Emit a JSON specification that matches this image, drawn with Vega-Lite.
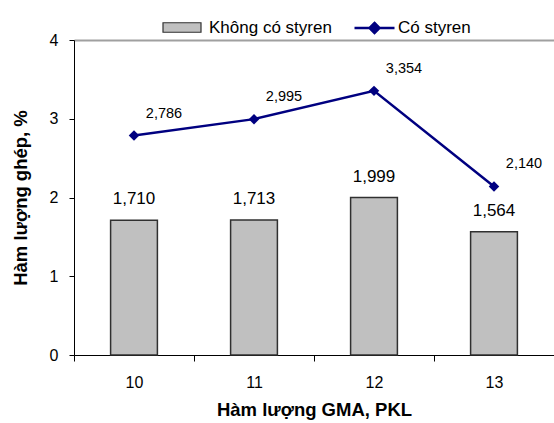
{
  "$schema": "https://vega.github.io/schema/vega-lite/v6.json",
  "width": 480,
  "height": 315,
  "autosize": "none",
  "padding": {"left": 74, "top": 40, "right": 0, "bottom": 68},
  "background": "white",
  "config": {
    "font": "Liberation Sans",
    "view": {"stroke": null},
    "locale": {"number": {"decimal": ",", "thousands": ".", "grouping": [3], "currency": ["", ""]}}
  },
  "data": {"values": [
    {"gma": "10", "khong": 1.710, "co": 2.786},
    {"gma": "11", "khong": 1.713, "co": 2.995},
    {"gma": "12", "khong": 1.999, "co": 3.354},
    {"gma": "13", "khong": 1.564, "co": 2.140}
  ]},
  "resolve": {"axis": {"x": "independent"}},
  "layer": [
    {
      "mark": {"type": "bar", "width": {"band": 0.39}, "stroke": "#303030", "strokeWidth": 1.5},
      "encoding": {
        "x": {
          "field": "gma", "type": "ordinal",
          "scale": {"paddingInner": 0, "paddingOuter": 0},
          "axis": {
            "title": "Hàm lượng GMA, PKL", "labelAngle": 0, "tickBand": "extent",
            "domainColor": "black", "tickColor": "black", "tickSize": 6,
            "labelFontSize": 16, "labelColor": "black", "labelPadding": 13,
            "titleFontSize": 18.5, "titleFontWeight": "bold", "titleColor": "black", "titlePadding": 10
          }
        },
        "y": {
          "field": "khong", "type": "quantitative",
          "scale": {"domain": [0, 4], "nice": false},
          "axis": {
            "title": "Hàm lượng ghép, %", "values": [0, 1, 2, 3, 4], "format": "d", "grid": false,
            "domainColor": "black", "tickColor": "black", "tickSize": 5,
            "labelFontSize": 16, "labelColor": "black", "labelPadding": 11,
            "titleFontSize": 18.5, "titleFontWeight": "bold", "titleColor": "black", "titlePadding": 19
          }
        },
        "fill": {
          "datum": "Không có styren",
          "scale": {"range": ["#c0c0c0"]},
          "legend": {
            "title": null, "orient": "none", "legendX": 88, "legendY": -32.5, "padding": 0,
            "symbolType": "M-1,-0.25H1V0.25H-1Z", "symbolSize": 1444,
            "symbolStrokeColor": "#303030", "symbolStrokeWidth": 1.2,
            "labelFontSize": 17, "labelColor": "black", "labelOffset": 7
          }
        }
      }
    },
    {
      "mark": {"type": "text", "fontSize": 17, "baseline": "middle", "dy": -21, "color": "black"},
      "encoding": {
        "x": {"field": "gma", "type": "ordinal", "axis": null},
        "y": {"field": "khong", "type": "quantitative"},
        "text": {"field": "khong", "type": "quantitative", "format": ".3f"}
      }
    },
    {
      "mark": {"type": "line", "strokeWidth": 2.5},
      "encoding": {
        "x": {"field": "gma", "type": "ordinal", "axis": null},
        "y": {"field": "co", "type": "quantitative"},
        "stroke": {
          "datum": "Có styren",
          "scale": {"range": ["#000080"]},
          "legend": {
            "title": null, "orient": "none", "legendX": 279, "legendY": -33.5, "padding": 0,
            "symbolType": "M-1,0H1M0,-0.25L0.25,0L0,0.25L-0.25,0Z", "symbolSize": 1600,
            "symbolStrokeWidth": 2.5, "symbolFillColor": "#000080",
            "labelFontSize": 17, "labelColor": "black", "labelOffset": 2
          }
        }
      }
    },
    {
      "mark": {"type": "point", "shape": "diamond", "filled": true, "size": 110, "color": "#000080", "opacity": 1},
      "encoding": {
        "x": {
          "field": "gma", "type": "ordinal",
          "axis": {"orient": "top", "labels": false, "ticks": false, "title": null, "domainColor": "#a0a0a0", "domainWidth": 2}
        },
        "y": {"field": "co", "type": "quantitative"}
      }
    },
    {
      "mark": {"type": "text", "fontSize": 14.5, "baseline": "middle", "dx": 30, "dy": -22, "color": "black"},
      "encoding": {
        "x": {"field": "gma", "type": "ordinal", "axis": null},
        "y": {"field": "co", "type": "quantitative"},
        "text": {"field": "co", "type": "quantitative", "format": ".3f"}
      }
    }
  ]
}
